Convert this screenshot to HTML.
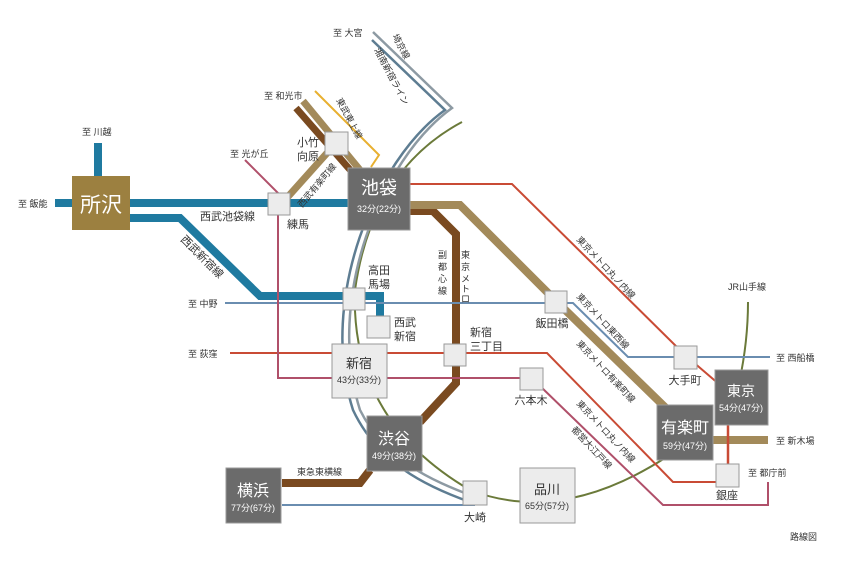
<!DOCTYPE html>
<html><head><meta charset="utf-8"><style>
html,body{margin:0;padding:0;background:#fff}
svg{display:block}
text{font-family:"Liberation Sans","Noto Sans CJK JP",sans-serif;fill:#333}
.w{fill:#fff}
</style></head><body>
<svg width="868" height="564" viewBox="0 0 868 564" xmlns="http://www.w3.org/2000/svg" font-size="10">
<g fill="none" stroke-linejoin="miter">
<path d="M462,122 Q372,170 355,290 Q350,420 470,490 Q560,525 665,458" stroke="#6b7a3a" stroke-width="2"/>
<path d="M735,400 Q748,350 748,302" stroke="#6b7a3a" stroke-width="2"/>
<path d="M373,32 L452,108 C380,160 325,300 360,410 C385,460 430,480 475,497" stroke="#8d9aa3" stroke-width="2.5"/>
<path d="M372,40 L445,110 C375,160 318,300 353,410 C378,463 425,486 470,502" stroke="#5e7d92" stroke-width="2.5"/>
<path d="M315,91 L379,155 L371,167" stroke="#e8b030" stroke-width="2"/>
<path d="M296,108 L352,172" stroke="#7a4a20" stroke-width="7"/>
<path d="M405,211 L433,211 L456,234 L456,383 L420,422" stroke="#7a4a20" stroke-width="8"/>
<path d="M370,470 L360,483 L282,483" stroke="#7a4a20" stroke-width="8"/>
<path d="M303,101 L360,170" stroke="#a38a5a" stroke-width="7"/>
<path d="M285,200 L336,143" stroke="#a38a5a" stroke-width="7"/>
<path d="M405,205 L460,205 L556,301 L670,412" stroke="#a38a5a" stroke-width="8"/>
<path d="M712,440 L768,440" stroke="#a38a5a" stroke-width="8"/>
<path d="M98,143 L98,178 M55,203 L350,203" stroke="#1f7aa0" stroke-width="8"/>
<path d="M130,218 L180,218 L260,296 L380,296 L380,318" stroke="#1f7aa0" stroke-width="8"/>
<path d="M225,303 L573,303 L628,357 L770,357" stroke="#6a8db0" stroke-width="2"/>
<path d="M410,184 L512,184 L685,355 L720,385" stroke="#c94b35" stroke-width="2"/>
<path d="M728,420 L728,470" stroke="#c94b35" stroke-width="2.5"/>
<path d="M230,353 L547,353 L673,482 L720,482" stroke="#c94b35" stroke-width="2"/>
<path d="M245,160 L278,193 L278,378 L530,378" stroke="#b0506a" stroke-width="2"/>
<path d="M540,386 L663,505 L768,505 L768,482" stroke="#b0506a" stroke-width="2"/>
<path d="M282,505 L475,505" stroke="#6a8db0" stroke-width="2"/>
</g>
<g stroke="#999" stroke-width="1">
<rect x="72" y="176" width="58" height="54" fill="#9c8040" stroke="none"/>
<g fill="#ececec">
<rect x="268" y="193" width="22" height="22"/>
<rect x="325" y="132" width="23" height="23"/>
<rect x="343" y="288" width="22" height="22"/>
<rect x="367" y="316" width="23" height="22"/>
<rect x="332" y="344" width="55" height="54"/>
<rect x="444" y="344" width="22" height="22"/>
<rect x="545" y="291" width="22" height="22"/>
<rect x="674" y="346" width="23" height="23"/>
<rect x="716" y="464" width="23" height="23"/>
<rect x="520" y="368" width="23" height="22"/>
<rect x="463" y="481" width="24" height="24"/>
<rect x="520" y="468" width="55" height="55"/>
</g>
<g fill="#6b6b6b">
<rect x="348" y="168" width="62" height="62"/>
<rect x="715" y="370" width="53" height="55"/>
<rect x="657" y="405" width="56" height="55"/>
<rect x="367" y="416" width="55" height="55"/>
<rect x="226" y="468" width="55" height="55"/>
</g>
</g>
<text x="101" y="212" class="w" font-size="21" text-anchor="middle">所沢</text>
<text x="379" y="194" class="w" font-size="18" text-anchor="middle">池袋</text>
<text x="379" y="212" class="w" font-size="9" text-anchor="middle">32分(22分)</text>
<text x="741" y="396" class="w" font-size="14" text-anchor="middle">東京</text>
<text x="741" y="411" class="w" font-size="9" text-anchor="middle">54分(47分)</text>
<text x="685" y="433" class="w" font-size="16" text-anchor="middle">有楽町</text>
<text x="685" y="449" class="w" font-size="9" text-anchor="middle">59分(47分)</text>
<text x="394" y="444" class="w" font-size="16" text-anchor="middle">渋谷</text>
<text x="394" y="459" class="w" font-size="9" text-anchor="middle">49分(38分)</text>
<text x="253" y="496" class="w" font-size="16" text-anchor="middle">横浜</text>
<text x="253" y="511" class="w" font-size="9" text-anchor="middle">77分(67分)</text>
<text x="359" y="368" font-size="13" text-anchor="middle" fill="#222">新宿</text>
<text x="359" y="383" font-size="9" text-anchor="middle">43分(33分)</text>
<text x="547" y="494" font-size="13" text-anchor="middle" fill="#222">品川</text>
<text x="547" y="509" font-size="9" text-anchor="middle">65分(57分)</text>
<text x="298" y="228" font-size="11" text-anchor="middle">練馬</text>
<text x="319" y="146" font-size="11" text-anchor="end">小竹</text>
<text x="319" y="160" font-size="11" text-anchor="end">向原</text>
<text x="368" y="274" font-size="11">高田</text>
<text x="368" y="288" font-size="11">馬場</text>
<text x="394" y="326" font-size="11">西武</text>
<text x="394" y="340" font-size="11">新宿</text>
<text x="470" y="336" font-size="11">新宿</text>
<text x="470" y="350" font-size="11">三丁目</text>
<text x="552" y="327" font-size="11" text-anchor="middle">飯田橋</text>
<text x="685" y="384" font-size="11" text-anchor="middle">大手町</text>
<text x="727" y="499" font-size="11" text-anchor="middle">銀座</text>
<text x="531" y="404" font-size="11" text-anchor="middle">六本木</text>
<text x="475" y="521" font-size="11" text-anchor="middle">大崎</text>
<text x="82" y="135" font-size="9">至 川越</text>
<text x="18" y="207" font-size="9">至 飯能</text>
<text x="230" y="157" font-size="9">至 光が丘</text>
<text x="264" y="99" font-size="9">至 和光市</text>
<text x="333" y="36" font-size="9">至 大宮</text>
<text x="188" y="307" font-size="9">至 中野</text>
<text x="188" y="357" font-size="9">至 荻窪</text>
<text x="776" y="361" font-size="9">至 西船橋</text>
<text x="776" y="444" font-size="9">至 新木場</text>
<text x="748" y="476" font-size="9">至 都庁前</text>
<text x="728" y="290" font-size="9">JR山手線</text>
<text x="790" y="540" font-size="9">路線図</text>
<text x="200" y="220" font-size="11" fill="#1f7aa0">西武池袋線</text>
<text x="180" y="240" font-size="11" fill="#1f7aa0" transform="rotate(45 180 240)">西武新宿線</text>
<text x="302" y="208" font-size="9" transform="rotate(-50 302 208)">西武有楽町線</text>
<text x="336" y="100" font-size="9" transform="rotate(62 336 100)">東武東上線</text>
<text x="374" y="50" font-size="9" transform="rotate(62 374 50)">湘南新宿ライン</text>
<text x="392" y="36" font-size="9" transform="rotate(62 392 36)">埼京線</text>
<text x="297" y="475" font-size="9">東急東横線</text>
<g font-size="9">
<text x="438" y="258">副</text><text x="438" y="270">都</text><text x="438" y="282">心</text><text x="438" y="294">線</text>
<text x="461" y="258">東</text><text x="461" y="270">京</text><text x="461" y="282">メ</text><text x="461" y="292">ト</text><text x="461" y="302">ロ</text>
</g>
<text x="576" y="240" font-size="9" transform="rotate(47 576 240)">東京メトロ丸ノ内線</text>
<text x="576" y="297" font-size="9" transform="rotate(47 576 297)">東京メトロ東西線</text>
<text x="576" y="344" font-size="9" transform="rotate(47 576 344)">東京メトロ有楽町線</text>
<text x="576" y="404" font-size="9" transform="rotate(47 576 404)">東京メトロ丸ノ内線</text>
<text x="571" y="430" font-size="9" transform="rotate(47 571 430)">都営大江戸線</text>
</svg>
</body></html>
